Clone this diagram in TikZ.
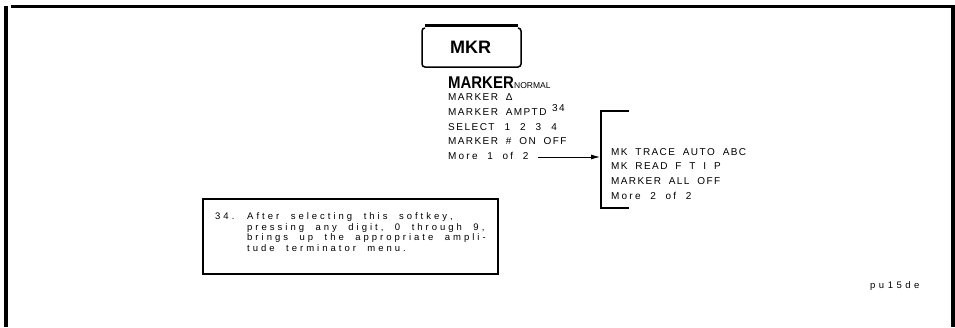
\documentclass[tikz,border=0pt]{standalone}
\usepackage{fontspec}
\setmainfont{Liberation Sans}
\usetikzlibrary{arrows.meta}
\ExplSyntaxOn
\dim_new:N \l_lsp_letter_dim
\dim_new:N \l_lsp_word_dim
\seq_new:N \l_lsp_words_seq
\NewDocumentCommand\spaced{mmm}
  {
    \group_begin:
    \dim_set:Nn \l_lsp_letter_dim {#1}
    \dim_set:Nn \l_lsp_word_dim {#2}
    \seq_set_split:Nnn \l_lsp_words_seq {~} {#3}
    \seq_map_indexed_inline:Nn \l_lsp_words_seq
      {
        \int_compare:nNnT {##1} > {1} { \hspace*{\l_lsp_word_dim} }
        \tl_map_inline:nn {##2} { ####1 \kern\l_lsp_letter_dim }
      }
    \group_end:
  }
\ExplSyntaxOff
\newcommand\mtxt[1]{\spaced{1.4pt}{6.5pt}{#1}}
\newcommand\ntxt[1]{\spaced{3pt}{8.5pt}{#1}}
\begin{document}
\begin{tikzpicture}[x=1pt,y=-1pt,
  menu/.style={anchor=base west,inner sep=0pt,font=\fontsize{10}{11}\selectfont},
  note/.style={anchor=base west,inner sep=0pt,font=\fontsize{9.5}{10}\selectfont},
  frameline/.style={line width=3.5pt},
  keyline/.style={line width=1.5pt,rounded corners=3pt},
  boxline/.style={line width=1.8pt},
  arrowline/.style={line width=0.8pt,-{Latex[length=9pt,width=5pt]}}]
\useasboundingbox (0,0) rectangle (955,327);
% frame
\draw[frameline] (6,6) -- (6,327);
\draw[frameline] (11,6.5) -- (953,6.5) -- (953,327);
% MKR key
\draw[line width=3pt] (425,25) -- (518,25);
\draw[keyline] (425,28) -- (422,28) -- (422,67) -- (521,67) -- (521,28) -- (518,28);
\node[anchor=base,inner sep=0pt,font=\bfseries\fontsize{18}{20}\selectfont] (mkr) at (470.5,53.3) {MKR};
% first menu
\node[anchor=base west,inner sep=0pt,font=\bfseries\fontsize{17}{18}\selectfont,xscale=0.88] (m0) at (448,88) {MARKER};
\node[anchor=base west,inner sep=0pt,font=\fontsize{8.5}{9}\selectfont] (m0b) at (514,88) {NORMAL};
\node[menu] (m1) at (448,100) {\mtxt{MARKER Δ}};
\node[menu] (m2) at (448,115) {\mtxt{MARKER AMPTD}};
\node[menu] (m2s) at (552,111.5) {\mtxt{34}};
\node[menu] (m3) at (448,130) {\spaced{1.5pt}{8.5pt}{SELECT 1 2 3 4}};
\node[menu] (m4) at (448,144.5) {\mtxt{MARKER \# ON OFF}};
\node[menu] (m5) at (448,159) {\spaced{2.2pt}{7.5pt}{More 1 of 2}};
% bracket + second menu
\coordinate (brtop) at (629,111);
\coordinate (brin) at (600,157);
\draw[boxline] (brtop) -- (601,111) -- (601,208) -- (629,208);
\draw[arrowline] ([xshift=7pt]m5.east |- brin) -- (brin);
\node[menu] (s1) at (611,155.5) {\mtxt{MK TRACE AUTO ABC}};
\node[menu] (s2) at (611,169.5) {\mtxt{MK READ F T I P}};
\node[menu] (s3) at (611,184) {\mtxt{MARKER ALL OFF}};
\node[menu] (s4) at (611,199) {\spaced{2.2pt}{7.5pt}{More 2 of 2}};
% note box
\draw[boxline] (203,199) rectangle (498,274);
\node[note] (n0) at (215,219.5) {\ntxt{34.}};
\node[note] (n1) at (247,219.5) {\ntxt{After selecting this softkey,}};
\node[note] (n2) at (247,230) {\ntxt{pressing any digit, 0 through 9,}};
\node[note] (n3) at (247,240.5) {\ntxt{brings up the appropriate ampli-}};
\node[note] (n4) at (247,251) {\ntxt{tude terminator menu.}};
% figure id
\node[note] (fid) at (870,288) {\spaced{3.5pt}{9pt}{pu15de}};
\end{tikzpicture}
\end{document}
